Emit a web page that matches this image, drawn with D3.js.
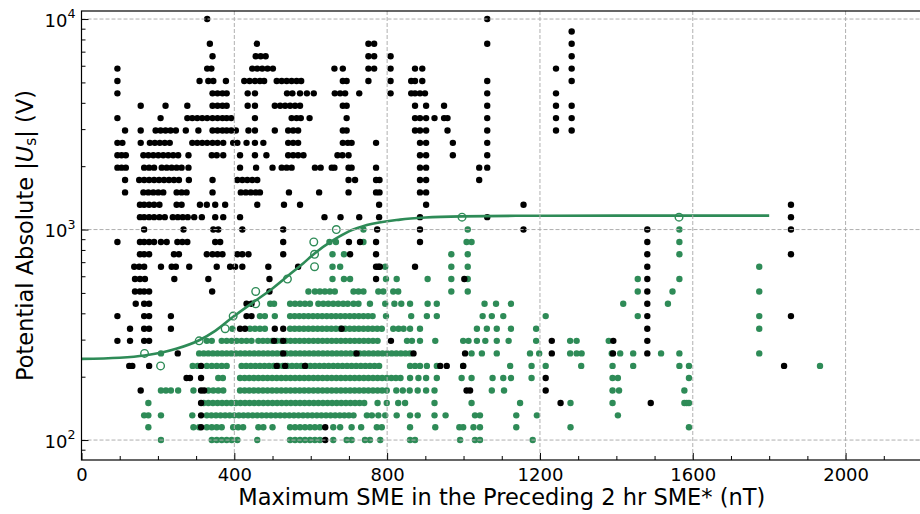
<!DOCTYPE html>
<html>
<head>
<meta charset="utf-8">
<script src="https://cdn.jsdelivr.net/npm/d3@7/dist/d3.min.js"></script>
<style>
  body { margin: 0; background: #fff; }
  svg text { font-family: "DejaVu Sans", sans-serif; fill: #000; }
</style>
</head>
<body>
<div id="chart"></div>
<script>
// x ticks
const xMajor = [0, 400, 800, 1200, 1600, 2000];
const xMinor = [100, 200, 300, 500, 600, 700, 900, 1000, 1100, 1300, 1400, 1500, 1700, 1800, 1900, 2100];
const yMajor = [100, 1000, 10000];
const yMinor = [90, 200, 300, 400, 500, 600, 700, 800, 900, 2000, 3000, 4000, 5000, 6000, 7000, 8000, 9000];

// all events, one row per |Us| bin: [volts, [max SME ...]]
const blackRows = [
  [10000, [329, 1062]],
  [8733, [1283]],
  [7627, [336, 459, 751, 766, 1062, 1283]],
  [6661, [343, 456, 469, 482, 751, 766, 809, 1283]],
  [5817, [94, 329, 340, 447, 460, 473, 487, 501, 662, 684, 751, 766, 809, 873, 892, 1242, 1283]],
  [5080, [94, 309, 332, 345, 378, 426, 440, 454, 467, 478, 511, 524, 537, 550, 563, 575, 684, 694, 751, 809, 863, 873, 892, 1062, 1283]],
  [4437, [94, 343, 356, 369, 380, 435, 454, 538, 552, 572, 590, 608, 663, 677, 690, 727, 809, 863, 873, 886, 899, 1062, 1242]],
  [3875, [155, 220, 277, 343, 356, 369, 380, 435, 454, 506, 520, 533, 546, 559, 572, 684, 694, 873, 902, 949, 1062, 1242, 1283]],
  [3384, [94, 207, 277, 290, 303, 316, 329, 343, 356, 369, 380, 392, 454, 550, 563, 574, 597, 694, 873, 886, 902, 924, 949, 958, 1062, 1242, 1283]],
  [2955, [114, 155, 194, 207, 220, 233, 247, 273, 306, 343, 356, 369, 380, 392, 404, 437, 454, 506, 541, 554, 567, 684, 694, 873, 886, 902, 958, 1062, 1242, 1283]],
  [2581, [94, 107, 155, 179, 192, 205, 218, 231, 290, 303, 316, 329, 343, 356, 371, 397, 408, 432, 454, 476, 541, 554, 567, 684, 697, 707, 771, 886, 902, 972, 1062]],
  [2254, [94, 105, 116, 162, 175, 188, 201, 214, 227, 240, 253, 280, 341, 354, 371, 415, 454, 484, 541, 554, 567, 581, 670, 683, 699, 886, 902, 972, 1062]],
  [1968, [94, 105, 116, 164, 177, 190, 210, 223, 236, 249, 262, 280, 415, 457, 500, 524, 537, 550, 611, 626, 655, 662, 699, 707, 771, 886, 902, 1041, 1062]],
  [1719, [114, 151, 164, 177, 190, 203, 216, 229, 242, 255, 281, 343, 408, 421, 434, 447, 460, 699, 716, 771, 780, 886, 902, 1041]],
  [1501, [114, 162, 175, 188, 201, 214, 249, 262, 275, 343, 417, 430, 443, 456, 467, 543, 622, 699, 771, 780, 886, 902]],
  [1311, [153, 164, 177, 190, 204, 249, 262, 310, 328, 350, 376, 460, 530, 572, 779, 902, 1157, 1857]],
  [1145, [153, 164, 177, 190, 204, 218, 239, 252, 265, 278, 295, 315, 350, 371, 415, 636, 678, 727, 779, 886, 1062, 1857]],
  [1000, [164, 267, 345, 358, 421, 528, 774, 886, 1157, 1481, 1857]],
  [873, [94, 153, 164, 177, 190, 208, 223, 251, 264, 277, 350, 363, 528, 700, 729, 771, 886, 1481]],
  [763, [153, 164, 177, 242, 255, 328, 343, 356, 369, 408, 421, 437, 528, 703, 771, 1481, 1857]],
  [666, [138, 151, 164, 208, 236, 247, 282, 354, 389, 402, 421, 489, 567, 771, 777, 781, 873, 1481]],
  [582, [140, 153, 166, 243, 332, 492, 771, 1002, 1481]],
  [508, [140, 153, 164, 177, 342, 492, 1481]],
  [444, [142, 164, 177, 432, 445, 1481]],
  [388, [94, 164, 177, 234, 432, 445, 1481, 1857]],
  [338, [127, 164, 177, 234, 415, 428, 506, 528, 681, 1481]],
  [296, [94, 127, 164, 177, 504, 528, 810, 1231, 1392, 1481]],
  [258, [252, 528, 720, 869, 1004, 1231, 1391, 1481]],
  [225, [125, 133, 177, 313, 511, 533, 585, 939, 956, 999, 1839]],
  [197, [275, 284, 313, 1215]],
  [172, [155, 313, 321, 1008, 1017, 1215]],
  [150, [313, 1254, 1490]],
  [131, [313]],
  [115, [313, 638]],
  [100, [638]]
];

// events inside the selection
const greenRows = [
  [1000, [738, 1011, 1565]],
  [873, [649, 666, 738, 1008, 1021, 1565]],
  [763, [657, 687, 968, 1011, 1565]],
  [666, [657, 677, 795, 968, 1011, 1774]],
  [582, [657, 687, 703, 797, 825, 906, 968, 1011, 1456, 1565]],
  [508, [594, 611, 624, 637, 650, 663, 712, 725, 738, 777, 790, 816, 829, 968, 1011, 1456, 1547, 1774]],
  [444, [494, 504, 546, 559, 572, 585, 598, 620, 633, 646, 659, 672, 685, 697, 712, 725, 755, 795, 819, 837, 860, 906, 930, 1055, 1085, 1124, 1418, 1535]],
  [388, [467, 480, 506, 546, 558, 570, 582, 594, 606, 618, 630, 642, 654, 666, 678, 690, 702, 714, 726, 738, 750, 762, 797, 863, 904, 930, 1050, 1074, 1104, 1215, 1456, 1774]],
  [338, [395, 441, 454, 467, 480, 546, 558, 570, 582, 594, 606, 618, 630, 642, 654, 666, 678, 690, 702, 714, 726, 738, 750, 762, 774, 786, 816, 830, 843, 860, 886, 1035, 1061, 1087, 1124, 1190, 1774]],
  [296, [328, 341, 367, 380, 393, 406, 419, 432, 445, 463, 475, 487, 499, 511, 523, 535, 547, 559, 571, 583, 595, 607, 619, 631, 643, 655, 667, 679, 691, 703, 715, 727, 739, 751, 763, 775, 852, 865, 886, 926, 999, 1013, 1035, 1057, 1087, 1118, 1190, 1279, 1296, 1380]],
  [258, [208, 308, 320, 332, 344, 356, 368, 380, 392, 404, 416, 428, 440, 452, 464, 476, 488, 500, 512, 524, 536, 548, 560, 572, 584, 596, 608, 620, 632, 644, 656, 668, 680, 692, 704, 716, 728, 740, 752, 764, 776, 788, 800, 812, 824, 836, 848, 860, 1021, 1048, 1087, 1174, 1198, 1279, 1296, 1309, 1388, 1410, 1444, 1517, 1565, 1774]],
  [225, [291, 304, 328, 341, 354, 367, 380, 419, 431, 443, 455, 467, 479, 491, 503, 515, 527, 539, 551, 563, 575, 587, 599, 611, 623, 635, 647, 659, 671, 683, 695, 707, 719, 731, 743, 755, 767, 779, 860, 873, 886, 904, 930, 999, 1122, 1178, 1215, 1308, 1390, 1444, 1565, 1590, 1933]],
  [197, [358, 370, 415, 427, 439, 451, 463, 475, 487, 499, 511, 523, 535, 547, 559, 571, 583, 595, 607, 619, 631, 643, 655, 667, 679, 691, 703, 715, 727, 739, 751, 763, 775, 787, 799, 811, 823, 835, 860, 882, 902, 930, 995, 1021, 1076, 1104, 1124, 1178, 1390, 1404, 1590]],
  [172, [208, 221, 234, 253, 293, 332, 345, 358, 371, 415, 427, 439, 451, 463, 475, 487, 499, 511, 523, 535, 547, 559, 571, 583, 595, 607, 619, 631, 643, 655, 667, 679, 691, 703, 715, 727, 739, 751, 763, 775, 787, 799, 824, 841, 859, 880, 902, 924, 1074, 1106, 1390, 1407, 1578]],
  [150, [175, 320, 332, 344, 356, 368, 380, 392, 404, 416, 428, 440, 452, 464, 476, 488, 500, 512, 524, 536, 548, 560, 572, 584, 596, 608, 620, 632, 644, 656, 668, 680, 692, 704, 716, 728, 740, 775, 799, 829, 847, 924, 1021, 1148, 1280, 1390, 1578, 1584, 1590]],
  [131, [164, 175, 208, 290, 328, 340, 352, 364, 376, 388, 400, 412, 424, 436, 448, 460, 472, 484, 496, 508, 520, 532, 544, 556, 568, 580, 592, 604, 616, 628, 640, 652, 664, 676, 688, 700, 712, 747, 760, 777, 795, 825, 860, 880, 924, 953, 1030, 1043, 1138, 1192, 1404]],
  [115, [175, 293, 308, 328, 341, 354, 367, 397, 410, 423, 463, 476, 500, 546, 559, 572, 585, 598, 611, 624, 659, 677, 707, 732, 773, 786, 860, 926, 989, 999, 1026, 1043, 1138, 1280, 1590]],
  [100, [208, 341, 354, 367, 380, 393, 408, 460, 546, 559, 572, 585, 598, 611, 624, 659, 694, 707, 742, 755, 782, 860, 873, 991, 1030, 1043, 1181]]
];

// bin medians (open circles)
const medianX = [165, 207, 308, 376, 397, 456, 456, 539, 610, 610, 608, 667, 996, 1564];
const medianV = [258, 225, 296, 338, 388, 444, 508, 582, 666, 763, 873, 1000, 1145, 1145];

// fitted curve
const fitX = [0, 100, 165, 250, 308, 350, 397, 456, 500, 539, 580, 610, 659, 700, 747, 834, 900, 996, 1184, 1400, 1800];
const fitV = [243, 246, 252, 272, 298, 330, 385, 460, 525, 600, 690, 770, 890, 980, 1050, 1115, 1140, 1155, 1163, 1165, 1165];

const green = '#2e8b57';
const width = 920, height = 514;
const mLeft = 81.5, mRight = 922, mTop = 11, mBottom = 460;

const svg = d3.select('#chart').append('svg')
  .attr('width', width)
  .attr('height', height);

const x = d3.scaleLinear().domain([0, 2200]).range([mLeft, mRight]);
const y = d3.scaleLog().domain([80.4, 10920]).range([mBottom, mTop]);

const plot = svg.append('g');

const toPts = rows => rows.flatMap(([v, xs]) => xs.map(d => ({x: d, v: v})));

plot.append('g').selectAll('circle')
  .data(toPts(greenRows))
  .join('circle')
    .attr('cx', d => x(d.x))
    .attr('cy', d => y(d.v))
    .attr('r', 3.2)
    .attr('fill', green);

plot.append('g').selectAll('circle')
  .data(toPts(blackRows))
  .join('circle')
    .attr('cx', d => x(d.x))
    .attr('cy', d => y(d.v))
    .attr('r', 3.2)
    .attr('fill', '#000');

const line = d3.line()
  .x(d => x(d[0]))
  .y(d => y(d[1]))
  .curve(d3.curveMonotoneX);

plot.append('path')
  .datum(fitX.map((d, i) => [d, fitV[i]]))
  .attr('d', line)
  .attr('fill', 'none')
  .attr('stroke', green)
  .attr('stroke-width', 2.6);

plot.append('g').selectAll('circle')
  .data(medianX.map((d, i) => [d, medianV[i]]))
  .join('circle')
    .attr('cx', d => x(d[0]))
    .attr('cy', d => y(d[1]))
    .attr('r', 3.8)
    .attr('fill', 'none')
    .attr('stroke', green)
    .attr('stroke-width', 1.4);

// grid on top of the points
const grid = svg.append('g')
  .attr('stroke', '#b0b0b0')
  .attr('stroke-width', 1)
  .attr('stroke-dasharray', '4,2');
grid.selectAll('.gx').data(xMajor.filter(d => d > 0)).join('line')
  .attr('x1', d => x(d)).attr('x2', d => x(d))
  .attr('y1', mTop).attr('y2', mBottom);
grid.selectAll('.gy').data(yMajor).join('line')
  .attr('x1', mLeft).attr('x2', mRight)
  .attr('y1', d => y(d)).attr('y2', d => y(d));

// axes, ticks pointing inward
const xAxis = svg.append('g')
  .attr('transform', `translate(0,${mBottom})`)
  .call(d3.axisBottom(x).tickValues(xMajor).tickSize(-7).tickPadding(8).tickFormat(d3.format('d')));
svg.append('g')
  .attr('transform', `translate(0,${mBottom})`)
  .call(d3.axisBottom(x).tickValues(xMinor).tickSize(-4).tickFormat(''));

svg.append('g')
  .attr('transform', `translate(${mLeft},0)`)
  .call(d3.axisLeft(y).tickValues(yMajor).tickSize(-7).tickFormat(''));
svg.append('g')
  .attr('transform', `translate(${mLeft},0)`)
  .call(d3.axisLeft(y).tickValues(yMinor).tickSize(-4).tickFormat(''));

svg.selectAll('.domain').remove();
svg.selectAll('.tick line').attr('stroke', '#000').attr('stroke-width', 1);
xAxis.selectAll('text').attr('font-size', 18).attr('font-family', 'DejaVu Sans');

const yLab = svg.append('g').selectAll('text')
  .data(yMajor)
  .join('text')
    .attr('x', 75.5)
    .attr('y', d => y(d) + 7.5)
    .attr('text-anchor', 'end')
    .attr('font-size', 18);
yLab.append('tspan').text('10');
yLab.append('tspan')
  .attr('dy', -8.5)
  .attr('font-size', 12.6)
  .text(d => Math.round(Math.log10(d)));

// frame
svg.append('rect')
  .attr('x', mLeft).attr('y', mTop)
  .attr('width', mRight - mLeft).attr('height', mBottom - mTop)
  .attr('fill', 'none')
  .attr('stroke', '#000')
  .attr('stroke-width', 1.2);

// axis titles
svg.append('text')
  .attr('x', (mLeft + mRight) / 2)
  .attr('y', 505)
  .attr('text-anchor', 'middle')
  .attr('font-size', 22.5)
  .text('Maximum SME in the Preceding 2 hr SME* (nT)');

const yt = svg.append('text')
  .attr('transform', `translate(32.5,${(mTop + mBottom) / 2}) rotate(-90)`)
  .attr('text-anchor', 'middle')
  .attr('font-size', 22.5);
yt.append('tspan').text('Potential Absolute |');
yt.append('tspan').attr('font-style', 'italic').text('U');
yt.append('tspan').attr('font-size', 15.5).attr('dy', 3.5).text('s');
yt.append('tspan').attr('dy', -3.5).text('| (V)');
</script>
</body>
</html>
